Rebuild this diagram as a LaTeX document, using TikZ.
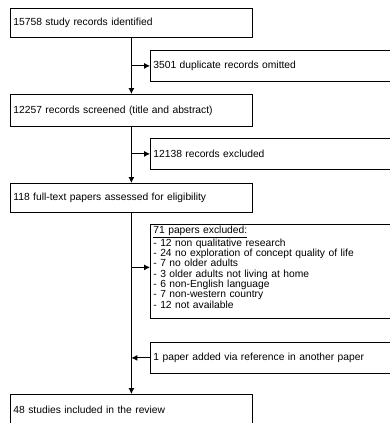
\documentclass[tikz,border=0pt]{standalone}
\usepackage{fontspec}
\setmainfont{Liberation Sans}
\usetikzlibrary{arrows.meta}
\begin{document}
\begin{tikzpicture}[x=1pt,y=-1pt,
  box/.style={draw, line width=0.8pt, anchor=north west, inner xsep=2.5pt, inner ysep=0pt,
    align=left, font=\fontsize{10.3}{10.3}\selectfont},
  conn/.style={line width=0.9pt},
  arr/.style={conn, -{Latex[length=6pt,width=6pt]}}]
\useasboundingbox (0,0) rectangle (389,423);
\node[box, minimum width=242pt, minimum height=29pt, text width=236pt] (b1) at (10,8) {15758 study records identified};
\node[box, minimum width=245pt, minimum height=31pt, text width=239pt] (b2) at (150,50) {3501 duplicate records omitted};
\node[box, minimum width=242pt, minimum height=32pt, text width=236pt] (b3) at (10,94) {12257 records screened (title and abstract)};
\node[box, minimum width=245pt, minimum height=31pt, text width=239pt] (b4) at (150,138) {12138 records excluded};
\node[box, minimum width=242pt, minimum height=29pt, text width=236pt] (b5) at (10,183) {118 full-text papers assessed for eligibility};
\node[box, minimum width=245pt, minimum height=94pt, text width=239pt] (b6) at (150,224) {\underline{71 papers excluded:}\\
- 12 non qualitative research\\
- 24 no exploration of concept quality of life\\
- 7 no older adults\\
- 3 older adults not living at home\\
- 6 non-English language\\
- 7 non-western country\\
- 12 not available\\[-2pt]\rule{0pt}{8pt}};
\node[box, minimum width=245pt, minimum height=31pt, text width=239pt] (b7) at (150,342) {1 paper added via reference in another paper};
\node[box, minimum width=242pt, minimum height=30pt, text width=236pt] (b8) at (10,394) {48 studies included in the review};
\coordinate (e6) at ([yshift=4pt]b6.west);
\coordinate (j1) at (b1.south |- b2.west);
\coordinate (j2) at (b3.south |- b4.west);
\coordinate (j3) at (b5.south |- e6);
\coordinate (j4) at (b5.south |- b7.west);
\draw[arr] (b1.south) -- (b3.north);
\draw[arr] (j1) -- (b2.west);
\draw[arr] (b3.south) -- (b5.north);
\draw[arr] (j2) -- (b4.west);
\draw[arr] (b5.south) -- (b8.north);
\draw[arr] (j3) -- (e6);
\draw[arr] (b7.west) -- (j4);
\end{tikzpicture}
\end{document}
